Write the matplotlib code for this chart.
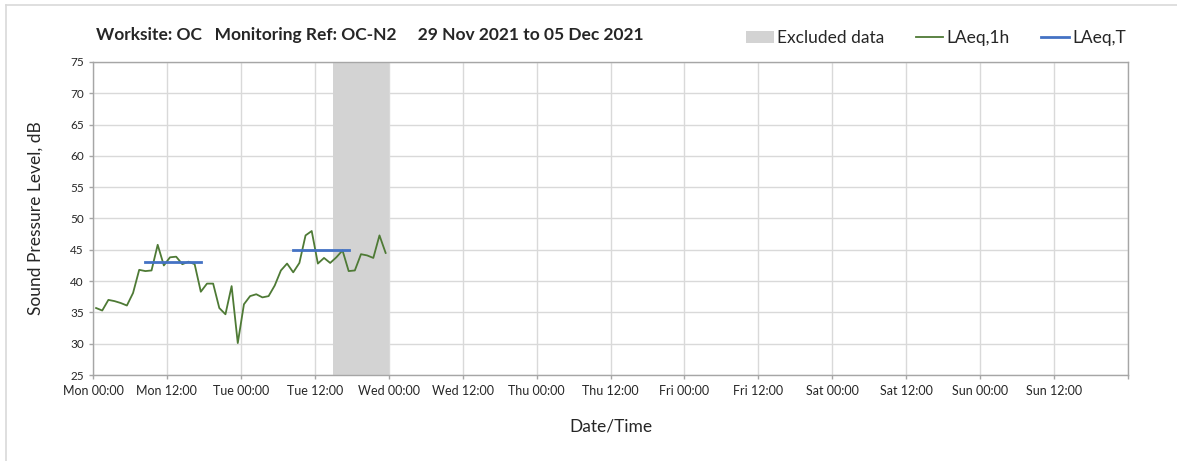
import matplotlib
matplotlib.use("Agg")
import matplotlib.pyplot as plt
from matplotlib.patches import Patch
from matplotlib.lines import Line2D

plt.rcParams['font.family'] = ['Lato', 'DejaVu Sans']

# ---- data ----
hour_index = list(range(48))          # hourly periods from Mon 00:00
laeq_1h = [35.7, 35.3, 37.0, 36.8, 36.5, 36.1, 38.1, 41.8, 41.6, 41.7,
           45.8, 42.5, 43.8, 43.9, 42.7, 43.1, 42.7, 38.3, 39.6, 39.6,
           35.7, 34.7, 39.2, 30.1, 36.3, 37.6, 37.9, 37.4, 37.6, 39.3,
           41.7, 42.8, 41.4, 42.9, 47.3, 48.0, 42.8, 43.7, 42.9, 43.8,
           44.9, 41.6, 41.7, 44.3, 44.1, 43.7, 47.3, 44.5]
laeq_t_start = [8, 32]                # first hourly period of each LAeq,T
laeq_t_end = [17, 41]                 # last hourly period of each LAeq,T
laeq_t_value = [43.0, 44.9]
excluded_start = [39]
excluded_end = [48]
tick_hours = list(range(0, 168, 12))
tick_labels = ["Mon 00:00", "Mon 12:00", "Tue 00:00", "Tue 12:00", "Wed 00:00",
               "Wed 12:00", "Thu 00:00", "Thu 12:00", "Fri 00:00", "Fri 12:00",
               "Sat 00:00", "Sat 12:00", "Sun 00:00", "Sun 12:00"]
y_ticks = list(range(25, 80, 5))

green = "#4e7a35"
blue = "#4472c4"
grey_fill = "#d3d3d3"
grid_c = "#d9d9d9"
spine_c = "#a6a6a6"
text_c = "#262626"

W, H = 1177, 461
fig = plt.figure(figsize=(W / 100, H / 100), dpi=100)
ax = fig.add_axes([93 / W, 1 - 375 / H, (1128 - 93) / W, (375 - 62) / H])

for s, e in zip(excluded_start, excluded_end):
    ax.axvspan(s, e, color=grey_fill, lw=0, zorder=1)

# hourly values plotted at the centre of each hour
x_mid = [h + 0.5 for h in hour_index]
ax.plot(x_mid, laeq_1h, color=green, lw=1.3, zorder=3)
for s, e, v in zip(laeq_t_start, laeq_t_end, laeq_t_value):
    ax.plot([s + 0.5, e + 0.5], [v, v], color=blue, lw=2.0, zorder=4)

ax.set_xlim(0, 168)
ax.set_ylim(25, 75)
ax.set_xticks(tick_hours + [168])
ax.set_xticklabels(tick_labels + [""], fontsize=9, color=text_c)
ax.set_yticks(y_ticks)
ax.set_yticklabels([str(v) for v in y_ticks], fontsize=8.5, color=text_c)
ax.grid(True, color=grid_c, lw=1.0, zorder=0)
ax.set_axisbelow(True)
for sp in ax.spines.values():
    sp.set_color(spine_c)
    sp.set_linewidth(1.0)
ax.tick_params(axis='both', colors=spine_c, length=3, width=1.0, labelcolor=text_c)
ax.tick_params(axis='x', pad=4)

ax.set_xlabel("Date/Time", fontsize=12.5, color=text_c, labelpad=16)
ax.set_ylabel("Sound Pressure Level, dB", fontsize=12.5, color=text_c, labelpad=19)

fig.text(96 / W, 1 - 35 / H,
         "Worksite: OC   Monitoring Ref: OC-N2     29 Nov 2021 to 05 Dec 2021",
         fontsize=12.5, fontweight='bold', color=text_c, va='center', ha='left')

handles = [Patch(facecolor=grey_fill, edgecolor='none', label="Excluded data"),
           Line2D([], [], color=green, lw=1.3, label="LAeq,1h"),
           Line2D([], [], color=blue, lw=2.0, label="LAeq,T")]
fig.legend(handles=handles, loc='center right', bbox_to_anchor=(1142 / W, 1 - 38 / H),
           ncol=3, frameon=False, fontsize=12.5, handlelength=1.6, handletextpad=0.2,
           columnspacing=1.8, labelcolor=text_c)

# outer chart frame (left and top)
fig.add_artist(Line2D([6 / W, 6 / W], [0, 1 - 5 / H], color=grid_c, lw=1.2))
fig.add_artist(Line2D([6 / W, 1], [1 - 5 / H, 1 - 5 / H], color=grid_c, lw=1.2))

fig.savefig("out.png", dpi=100)
